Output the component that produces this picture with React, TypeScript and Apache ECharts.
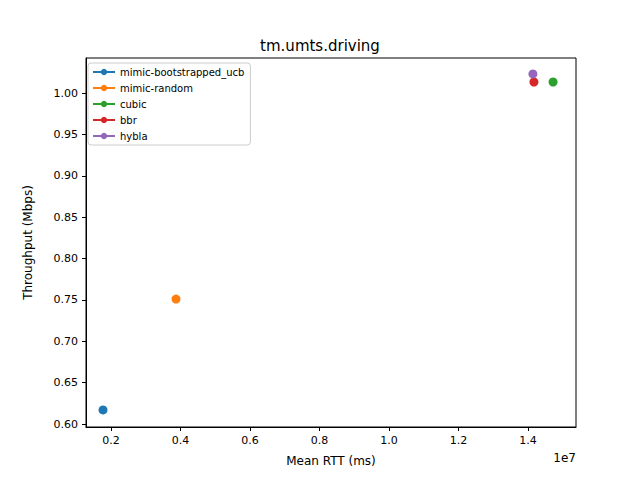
import { useEffect, useRef } from "react";
import * as echarts from "echarts";

const schemes = ["mimic-bootstrapped_ucb", "mimic-random", "cubic", "bbr", "hybla"];
const colors = ["#1f77b4", "#ff7f0e", "#2ca02c", "#d62728", "#9467bd"];
// mean RTT in ms, throughput in Mbps
const rttMs = [1770000, 3870000, 14720000, 14170000, 14140000];
const throughput = [0.617, 0.751, 1.0133, 1.0133, 1.023];
const xTicks = [2000000, 4000000, 6000000, 8000000, 10000000, 12000000, 14000000];
const yTicks = [0.6, 0.65, 0.7, 0.75, 0.8, 0.85, 0.9, 0.95, 1.0];

export default function App() {
  const chartRef = useRef<HTMLDivElement | null>(null);

  useEffect(() => {
    if (!chartRef.current) {
      return;
    }
    const chart = echarts.init(chartRef.current, null, { renderer: "svg" });
    const font = "DejaVu Sans";
    chart.setOption({
      animation: false,
      textStyle: { fontFamily: font },
      title: {
        text: "tm.umts.driving",
        left: "center",
        top: 33,
        textStyle: { fontSize: 15, fontWeight: "normal", color: "#000", fontFamily: font },
      },
      grid: {
        left: 86,
        right: 64,
        top: 58,
        bottom: 53,
        show: true,
        borderColor: "#000",
        borderWidth: 1,
      },
      legend: {
        orient: "vertical",
        left: 88,
        top: 63,
        itemWidth: 22,
        itemHeight: 8,
        itemGap: 6,
        padding: [4, 6, 4, 4],
        borderColor: "#ccc",
        borderWidth: 1,
        borderRadius: 3,
        backgroundColor: "rgba(255,255,255,0.8)",
        textStyle: { fontSize: 10, color: "#000", fontFamily: font },
        data: schemes,
      },
      xAxis: {
        type: "value",
        min: 1280000,
        max: 15380000,
        name: "Mean RTT (ms)",
        nameLocation: "middle",
        nameGap: 28,
        nameTextStyle: { fontSize: 12, color: "#000" },
        splitLine: { show: false },
        axisLine: { lineStyle: { color: "#000" } },
        axisTick: { customValues: xTicks, lineStyle: { color: "#000" }, length: 4 },
        axisLabel: {
          color: "#000",
          fontSize: 11,
          customValues: xTicks,
          formatter: (v: number) => (v / 1e7).toFixed(1),
        },
      },
      yAxis: {
        type: "value",
        min: 0.5964,
        max: 1.0423,
        name: "Throughput (Mbps)",
        nameLocation: "middle",
        nameGap: 52,
        nameTextStyle: { fontSize: 12, color: "#000" },
        splitLine: { show: false },
        axisLine: { show: true, lineStyle: { color: "#000" } },
        axisTick: { customValues: yTicks, lineStyle: { color: "#000" }, length: 4 },
        axisLabel: {
          color: "#000",
          fontSize: 11,
          customValues: yTicks,
          formatter: (v: number) => v.toFixed(2),
        },
      },
      graphic: [
        {
          type: "text",
          right: 64,
          top: 452,
          style: { text: "1e7", fontSize: 12, fill: "#000", fontFamily: font },
        },
      ],
      series: schemes.map((name, i) => ({
        name,
        type: "line",
        data: [[rttMs[i], throughput[i]]],
        symbol: "circle",
        symbolSize: 9,
        showSymbol: true,
        color: colors[i],
        itemStyle: { color: colors[i] },
        lineStyle: { color: colors[i], width: 1.5 },
      })),
    });
    return () => {
      chart.dispose();
    };
  }, []);

  return (
    <div
      ref={chartRef}
      style={{ position: "fixed", left: 0, top: 0, width: 640, height: 480, background: "#fff" }}
    />
  );
}
